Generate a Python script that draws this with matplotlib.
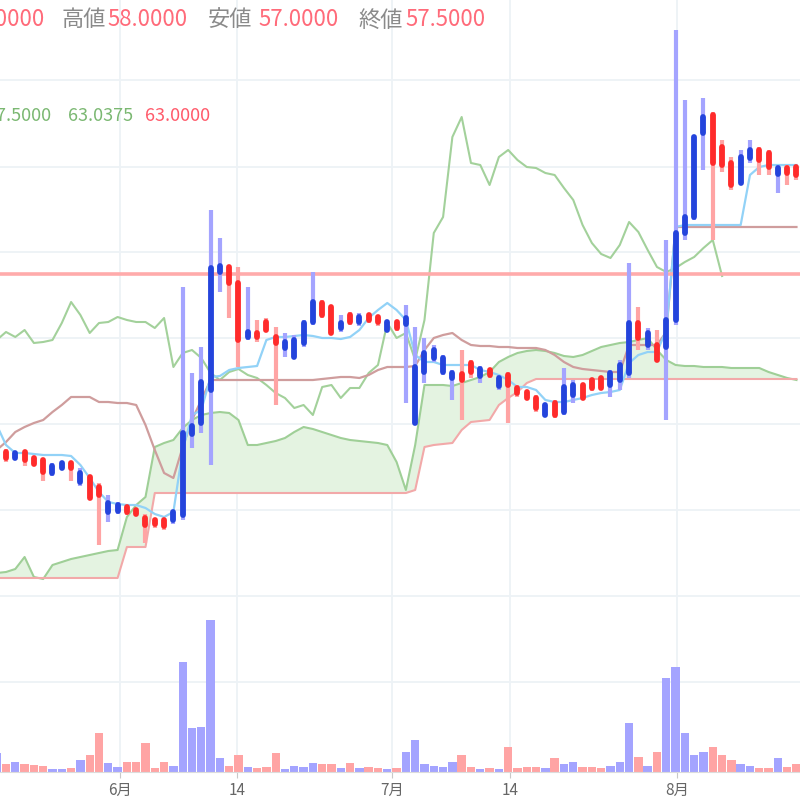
import numpy as np
import matplotlib.pyplot as plt

plt.rcParams['font.family'] = ['Noto Sans CJK JP', 'DejaVu Sans']

# candle index: -1 is the half-cut candle on the left edge
idx = np.arange(-1, 86)

opens = np.array([
    47.40, 47.40, 47.10, 47.40, 47.10, 47.00, 46.35, 46.60, 46.85, 45.90,
    46.15, 45.65, 44.40, 44.45, 44.65, 44.50, 44.10, 44.00, 44.00, 44.00,
    44.25, 48.30, 48.85, 50.50, 56.40, 56.65, 55.85, 53.15, 53.35, 53.90,
    53.15, 52.60, 52.15, 52.85, 53.90, 54.85, 54.65, 53.60, 54.25, 53.90,
    54.25, 54.15, 53.50, 53.90, 53.80, 48.85, 51.40, 52.10, 51.40, 51.10,
    51.30, 51.85, 51.20, 51.50, 50.70, 51.25, 50.60, 50.40, 50.10, 49.25,
    49.85, 49.40, 50.25, 50.75, 51.00, 51.10, 50.75, 51.00, 51.35, 53.85,
    52.75, 52.75, 52.65, 54.00, 58.35, 59.15, 63.35, 64.25, 62.65, 61.85,
    60.85, 62.10, 62.50, 62.35, 61.30, 61.60, 61.65])
highs = np.array([
    48.75, 47.55, 47.45, 47.50, 47.20, 47.10, 46.85, 46.95, 46.95, 46.60,
    46.25, 45.85, 45.25, 44.90, 44.75, 44.60, 44.30, 44.10, 44.10, 44.50,
    55.65, 51.35, 52.65, 59.50, 58.10, 56.75, 56.65, 55.65, 54.00, 54.10,
    53.65, 53.35, 53.25, 54.00, 56.40, 55.00, 54.75, 54.25, 54.40, 54.35,
    54.35, 54.25, 54.00, 54.00, 54.75, 53.65, 53.10, 52.75, 52.25, 51.50,
    52.50, 52.00, 51.70, 51.60, 51.25, 51.40, 50.75, 50.50, 50.25, 49.85,
    50.00, 51.60, 51.00, 50.85, 51.10, 51.20, 51.50, 52.00, 56.85, 54.65,
    53.60, 53.50, 58.00, 68.50, 65.00, 63.25, 65.10, 64.40, 63.00, 62.15,
    62.50, 63.00, 62.65, 62.50, 61.75, 61.75, 61.75])
lows = np.array([
    47.25, 46.90, 47.00, 46.70, 46.70, 45.95, 46.20, 46.50, 45.95, 45.70,
    45.00, 42.75, 43.90, 44.30, 44.25, 44.20, 42.85, 43.60, 43.50, 43.80,
    44.00, 47.60, 48.35, 46.75, 55.40, 54.10, 51.65, 53.00, 52.90, 53.40,
    49.75, 52.15, 52.10, 52.65, 53.75, 54.10, 53.25, 53.40, 53.75, 53.70,
    53.85, 53.70, 53.40, 53.45, 49.85, 48.75, 50.85, 51.90, 51.25, 50.00,
    49.00, 51.10, 50.85, 51.10, 50.50, 48.85, 50.15, 50.00, 49.40, 49.15,
    49.10, 49.25, 49.85, 50.00, 50.45, 50.50, 50.15, 50.50, 51.10, 52.50,
    52.50, 51.90, 49.00, 53.75, 58.00, 59.00, 61.50, 58.00, 61.40, 60.50,
    60.75, 61.85, 61.25, 61.25, 60.35, 60.75, 61.00])
closes = np.array([
    48.00, 47.10, 47.35, 47.00, 46.80, 46.40, 46.70, 46.85, 46.60, 46.35,
    45.10, 45.25, 44.85, 44.75, 44.40, 44.30, 43.75, 43.80, 43.70, 44.40,
    48.35, 48.70, 50.90, 56.60, 56.70, 55.85, 53.00, 53.40, 53.15, 53.50,
    52.85, 52.90, 53.00, 53.85, 54.90, 54.25, 53.35, 53.85, 53.90, 54.15,
    54.00, 53.90, 53.90, 53.60, 54.10, 51.65, 52.35, 52.50, 52.10, 51.35,
    51.00, 51.40, 51.55, 51.25, 51.10, 50.75, 50.35, 50.10, 49.60, 49.75,
    49.25, 50.65, 50.75, 50.10, 50.60, 50.60, 51.35, 51.75, 53.85, 53.10,
    53.35, 52.00, 54.00, 58.35, 59.15, 63.15, 64.15, 61.85, 61.75, 60.75,
    62.15, 62.50, 62.00, 61.65, 61.60, 61.35, 61.25])
volume = np.array([
    1900, 800, 1000, 800, 700, 600, 300, 300, 400, 1200,
    1700, 3900, 900, 500, 1000, 1000, 2900, 400, 1000, 600,
    11000, 4400, 4500, 15200, 1400, 600, 1700, 500, 400, 500,
    1900, 300, 600, 500, 900, 800, 800, 400, 900, 400,
    500, 400, 300, 400, 2000, 3200, 800, 600, 500, 1000,
    1700, 500, 300, 400, 300, 2500, 400, 500, 500, 400,
    1400, 800, 1000, 500, 500, 400, 600, 1000, 4900, 1500,
    600, 2000, 9400, 10500, 3900, 1700, 2000, 2500, 1700, 1200,
    800, 600, 400, 400, 1400, 500, 800])

# ichimoku lines
tenkan = [
    48.75, 47.75, 47.35, 47.35, 47.30, 47.25, 47.25, 47.25, 47.20, 46.75,
    46.10, 45.40, 44.90, 44.80, 44.75, 44.75, 44.60, 44.30, 44.15, 44.40,
    47.50, 49.25, 49.50, 51.15, 51.20, 51.50, 51.60, 51.65, 51.70, 53.00,
    53.15, 53.15, 53.20, 53.25, 53.20, 53.10, 53.10, 53.05, 53.15, 53.50,
    54.10, 54.50, 54.85, 54.50, 54.00, 52.25, 51.90, 51.90, 51.75, 51.75,
    51.75, 51.75, 51.50, 51.40, 51.25, 51.00, 50.65, 50.65, 50.50, 50.00,
    49.90, 49.90, 50.00, 50.10, 50.25, 50.35, 50.40, 50.50, 51.85, 52.25,
    52.40, 52.40, 53.50, 58.65, 58.75, 58.75, 58.75, 58.75, 58.75, 58.75,
    58.75, 61.25, 61.65, 61.75, 61.75, 61.75, 61.75]
kijun = [
    47.50, 47.90, 48.40, 48.65, 48.85, 49.00, 49.40, 49.75, 50.15, 50.15,
    50.15, 49.90, 49.90, 49.85, 49.85, 49.75, 48.75, 47.50, 46.35, 46.10,
    47.65, 49.00, 50.00, 51.00, 51.00, 51.00, 51.00, 51.00, 51.00, 51.00,
    51.00, 51.00, 51.00, 51.00, 51.00, 51.05, 51.10, 51.15, 51.15, 51.10,
    51.25, 51.50, 51.65, 51.65, 51.65, 51.70, 52.50, 53.10, 53.25, 53.35,
    53.00, 52.75, 52.70, 52.70, 52.65, 52.65, 52.60, 52.60, 52.60, 52.50,
    52.25, 51.90, 51.65, 51.55, 51.50, 51.45, 51.40, 51.40, 52.75, 52.75,
    52.75, 52.75, 53.40, 58.65, 58.65, 58.65, 58.65, 58.65, 58.65, 58.65,
    58.65, 58.65, 58.65, 58.65, 58.65, 58.65, 58.65]
span_a = [
    41.35, 41.40, 41.55, 42.15, 41.15, 41.05, 41.75, 41.90, 42.05, 42.15,
    42.25, 42.35, 42.45, 42.50, 44.15, 44.75, 45.15, 47.65, 47.85, 48.00,
    48.60, 49.00, 49.25, 49.35, 49.40, 49.35, 49.00, 47.75, 47.75, 47.85,
    47.95, 48.10, 48.40, 48.65, 48.55, 48.40, 48.25, 48.10, 48.00, 47.95,
    47.90, 47.85, 47.75, 46.90, 45.50, 47.75, 50.75, 50.75, 50.75, 50.70,
    50.85, 51.00, 51.15, 51.40, 51.90, 52.15, 52.35, 52.45, 52.50, 52.45,
    52.35, 52.20, 52.15, 52.25, 52.45, 52.65, 52.75, 52.85, 52.90, 53.00,
    53.10, 52.50, 52.00, 51.75, 51.70, 51.70, 51.65, 51.65, 51.65, 51.60,
    51.60, 51.60, 51.60, 51.40, 51.25, 51.10, 51.00]
span_b = [
    41.10, 41.10, 41.10, 41.10, 41.10, 41.10, 41.10, 41.10, 41.10, 41.10,
    41.10, 41.10, 41.10, 41.10, 42.65, 42.65, 42.65, 45.35, 45.35, 45.35,
    45.35, 45.35, 45.35, 45.35, 45.35, 45.35, 45.35, 45.35, 45.35, 45.35,
    45.35, 45.35, 45.35, 45.35, 45.35, 45.35, 45.35, 45.35, 45.35, 45.35,
    45.35, 45.35, 45.35, 45.35, 45.35, 45.50, 47.65, 47.75, 47.80, 47.85,
    48.50, 48.90, 48.95, 49.00, 49.75, 50.10, 50.40, 50.85, 51.05, 51.05,
    51.05, 51.05, 51.05, 51.05, 51.05, 51.05, 51.05, 51.05, 51.05, 51.05,
    51.05, 51.05, 51.05, 51.05, 51.05, 51.05, 51.05, 51.05, 51.05, 51.05,
    51.05, 51.05, 51.05, 51.05, 51.05, 51.05, 51.05]
chikou = [
    53.00, 53.40, 53.15, 53.50, 52.85, 52.90, 53.00, 53.85, 54.90, 54.25,
    53.35, 53.85, 53.90, 54.15, 54.00, 53.90, 53.90, 53.60, 54.10, 51.65,
    52.35, 52.50, 52.10, 51.35, 51.00, 51.40, 51.55, 51.25, 51.10, 50.75,
    50.35, 50.10, 49.60, 49.75, 49.25, 50.65, 50.75, 50.10, 50.60, 50.60,
    51.35, 51.75, 53.85, 53.10, 53.35, 52.00, 54.00, 58.35, 59.15, 63.15,
    64.15, 61.85, 61.75, 60.75, 62.15, 62.50, 62.00, 61.65, 61.60, 61.35,
    61.25, 60.60, 60.00, 58.75, 57.85, 57.30, 57.10, 57.75, 58.90, 58.40,
    57.50, 56.65, 56.40, 56.60, 56.90, 57.15, 57.60, 58.00, 56.20]
last_price = 56.30

tick_pos = [12.26, 24.84, 41.51, 54.19, 72.15]
tick_labels = ['6月', '14', '7月', '14', '8月']
price_grid = [66.0, 61.65, 57.4, 53.1, 48.8, 44.5, 40.2]
vol_grid = [9000]

header = [('高値', '58.0000'), ('安値', '57.0000'), ('終値', '57.5000')]

fig = plt.figure(figsize=(8, 8), dpi=100)
fig.patch.set_facecolor('white')
ax = fig.add_axes([0, 0.25, 1, 0.75])
axv = fig.add_axes([0, 0.035, 1, 0.215], sharex=ax)

grid_c = '#edf2f6'
for a in (ax, axv):
    for t in tick_pos:
        a.axvline(t, color=grid_c, lw=1.3, zorder=0)
for g in price_grid:
    ax.axhline(g, color=grid_c, lw=1.3, zorder=0)
for g in vol_grid:
    axv.axhline(g, color=grid_c, lw=1.3, zorder=0)

# cloud
sa = np.array(span_a)
sb = np.array(span_b)
ax.fill_between(idx, sa, sb, where=sa >= sb, interpolate=True,
                color='#e4f3e1', lw=0, zorder=1)
ax.fill_between(idx, sa, sb, where=sa < sb, interpolate=True,
                color='#fbe3e3', lw=0, zorder=1)
ax.plot(idx, span_a, color='#9fcf97', lw=1.5, zorder=2)
ax.plot(idx, span_b, color='#f2a9a9', lw=1.5, zorder=2)
ax.plot(idx[:len(chikou)], chikou, color='#a3d19b', lw=1.5, zorder=2)
ax.plot(idx, kijun, color='#cf9d9d', lw=1.6, zorder=2)
ax.plot(idx, tenkan, color='#92d2f7', lw=1.6, zorder=2)
ax.axhline(last_price, color='#ffabab', lw=2.6, zorder=2.5)

# candles
up = closes >= opens
wick_c = np.where(up, '#a4a4ff', '#ffa4a4')
body_c = np.where(up, '#2444dc', '#ff2b2b')
ax.vlines(idx, lows, highs, colors=wick_c, lw=3.0, zorder=3)
ax.vlines(idx, np.minimum(opens, closes), np.maximum(opens, closes),
          colors=body_c, lw=4.2, capstyle='round', zorder=4)

ax.set_xlim(-0.645, 85.38)
ax.set_ylim(40, 70)

# volume
axv.bar(idx, volume, width=0.9, color=np.where(up, '#a4a4ff', '#ffa4a4'),
        lw=0, zorder=2)
axv.set_ylim(0, 17200)

for a in (ax, axv):
    a.set_facecolor('none')
    for s in a.spines.values():
        s.set_visible(False)
    a.set_yticks([])
ax.tick_params(bottom=False, labelbottom=False)
axv.spines['bottom'].set_visible(True)
axv.spines['bottom'].set_color('#dcdcdc')
axv.set_xticks(tick_pos)
axv.set_xticklabels(tick_labels, fontsize=11, color='#666666')
axv.tick_params(axis='x', length=4, color='#c8c8c8', pad=3)

# header texts
fig.text(45 / 800, 1 - 20 / 800, '57.0000', color='#ff6b7a', fontsize=16,
         ha='right', va='center')
lab_x = [62, 208, 358]
val_x = [107, 258, 405]
for (lab, val), lx, vx in zip(header, lab_x, val_x):
    fig.text(lx / 800, 1 - 20 / 800, lab, color='#8a8a8a', fontsize=16,
             ha='left', va='center')
    fig.text(vx / 800, 1 - 20 / 800, val, color='#ff6b7a', fontsize=16,
             ha='left', va='center')

fig.text(52 / 800, 1 - 116 / 800, '57.5000', color='#7bb872', fontsize=13,
         ha='right', va='center')
fig.text(68 / 800, 1 - 116 / 800, '63.0375', color='#7bb872', fontsize=13,
         ha='left', va='center')
fig.text(145 / 800, 1 - 116 / 800, '63.0000', color='#ff5b6b', fontsize=13,
         ha='left', va='center')

fig.savefig('out.png', dpi=100)
